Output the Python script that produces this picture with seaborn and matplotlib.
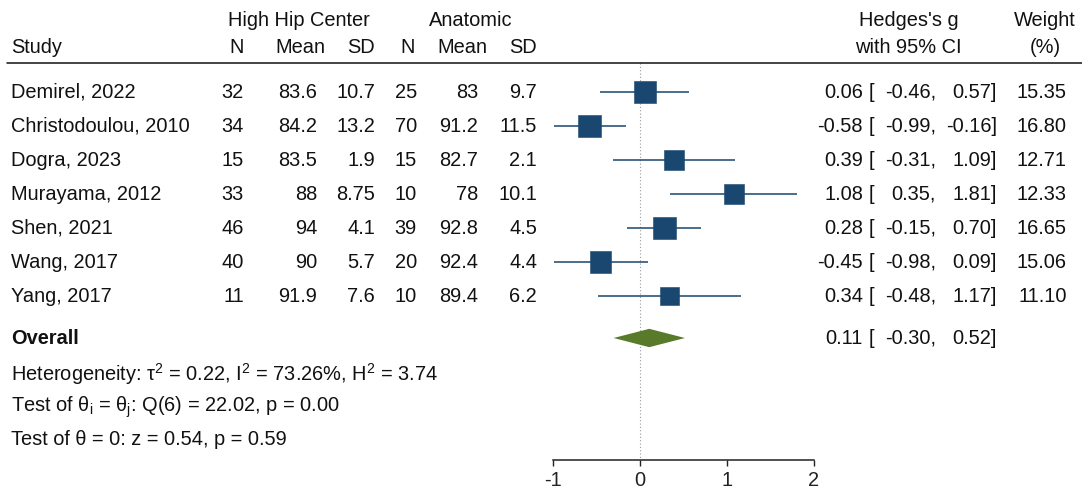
import numpy as np
import pandas as pd
import matplotlib
matplotlib.use("Agg")
import matplotlib.pyplot as plt
import matplotlib.transforms as mtransforms
import seaborn as sns

# ---- study-level data -------------------------------------------------------
studies = ["Demirel, 2022", "Christodoulou, 2010", "Dogra, 2023", "Murayama, 2012",
           "Shen, 2021", "Wang, 2017", "Yang, 2017"]
hhc_n = [32, 34, 15, 33, 46, 40, 11]
hhc_mean = [83.6, 84.2, 83.5, 88, 94, 90, 91.9]
hhc_sd = [10.7, 13.2, 1.9, 8.75, 4.1, 5.7, 7.6]
ana_n = [25, 70, 15, 10, 39, 20, 10]
ana_mean = [83, 91.2, 82.7, 78, 92.8, 92.4, 89.4]
ana_sd = [9.7, 11.5, 2.1, 10.1, 4.5, 4.4, 6.2]
hedges_g = [0.06, -0.58, 0.39, 1.08, 0.28, -0.45, 0.34]
ci_low = [-0.46, -0.99, -0.31, 0.35, -0.15, -0.98, -0.48]
ci_high = [0.57, -0.16, 1.09, 1.81, 0.70, 0.09, 1.17]
weights = [15.35, 16.80, 12.71, 12.33, 16.65, 15.06, 11.10]

overall_g = 0.11
overall_low = -0.30
overall_high = 0.52

het_text = r"Heterogeneity: τ$^{2}$ = 0.22, I$^{2}$ = 73.26%, H$^{2}$ = 3.74"
q_text = r"Test of θ$_{\mathrm{i}}$ = θ$_{\mathrm{j}}$: Q(6) = 22.02, p = 0.00"
z_text = "Test of θ = 0: z = 0.54, p = 0.59"
x_ticks = [-1, 0, 1, 2]

df = pd.DataFrame({"study": studies, "g": hedges_g, "lo": ci_low, "hi": ci_high,
                   "weight": weights, "row": np.arange(len(studies))})

# ---- style --------------------------------------------------------------------
sns.set_theme(style="white")
plt.rcParams["font.family"] = ["Liberation Sans", "DejaVu Sans"]
plt.rcParams["mathtext.fontset"] = "custom"
plt.rcParams["mathtext.rm"] = "Liberation Sans"
plt.rcParams["mathtext.it"] = "Liberation Sans:italic"
plt.rcParams["mathtext.bf"] = "Liberation Sans:bold"

NAVY = "#1a476f"
GREEN = "#5a7a2b"
TXT = "#111111"
FS = 14.4

W, H = 1082, 491
fig = plt.figure(figsize=(W / 100, H / 100), dpi=100)

# rows are 34 px apart, first study row 92 px from the top
ROW0, STEP = 92.0, 34.0
def row_of(py):
    return (py - ROW0) / STEP

axis_px = 460
ax = fig.add_axes([552.7 / W, (H - axis_px) / H, 261.0 / W, axis_px / H])
ax.set_xlim(-1, 2)
ax.set_ylim(row_of(axis_px), row_of(0))

# confidence intervals and weighted squares
ax.hlines(df["row"], df["lo"], df["hi"], color=NAVY, lw=1.1, zorder=2)
sns.scatterplot(data=df, x="g", y="row", size="weight", sizes=(0, 20 * 16.3),
                size_norm=(0, 20), marker="s", color=NAVY, edgecolor=NAVY,
                linewidth=0.4, legend=False, ax=ax, zorder=3)

# overall diamond
ov_row = row_of(338)
dh = 0.27
ax.fill([overall_low, overall_g, overall_high, overall_g],
        [ov_row, ov_row - dh, ov_row, ov_row + dh], color=GREEN, lw=0, zorder=3)

# reference line at zero
hdr_line = row_of(63)
ax.vlines(0, hdr_line, row_of(axis_px), color="#999999", lw=0.8,
          linestyles=(0, (1, 2)), zorder=1)

# axis styling
for s in ["top", "right", "left"]:
    ax.spines[s].set_visible(False)
ax.spines["bottom"].set_bounds(-1, 2)
ax.spines["bottom"].set_linewidth(1.1)
ax.spines["bottom"].set_color("#222222")
ax.set_xticks(x_ticks)
ax.set_xticklabels([str(t) for t in x_ticks])
ax.set_yticks([])
ax.tick_params(axis="x", direction="out", length=4.3, width=1.0, pad=3.5,
               labelsize=FS, colors="#222222", bottom=True)
ax.set_xlabel("")
ax.set_ylabel("")
ax.patch.set_alpha(0)

# ---- text table ----------------------------------------------------------------
tr = mtransforms.blended_transform_factory(fig.transFigure, ax.transData)
def put(px, row, s, ha="left", **kw):
    ax.text(px / W, row, s, transform=tr, ha=ha, va="center", fontsize=FS,
            color=TXT, clip_on=False, **kw)

def fmt(v):
    return f"{v:g}"

top_row, head_row = row_of(20), row_of(47)
put(299, top_row, "High Hip Center", ha="center")
put(471, top_row, "Anatomic", ha="center")
put(909, top_row, "Hedges's g", ha="center")
put(1045, top_row, "Weight", ha="center")
put(11, head_row, "Study")
for px, lab in [(244, "N"), (325, "Mean"), (375, "SD"),
                (415, "N"), (487, "Mean"), (537, "SD")]:
    put(px, head_row, lab, ha="right")
put(908, head_row, "with 95% CI", ha="center")
put(1045, head_row, "(%)", ha="center")

ax.plot([7 / W, 1.0], [hdr_line, hdr_line], transform=tr, color="#111111",
        lw=1.1, clip_on=False)

for i, r in enumerate(studies):
    put(11, i, r)
    put(244, i, fmt(hhc_n[i]), ha="right")
    put(317, i, fmt(hhc_mean[i]), ha="right")
    put(375, i, fmt(hhc_sd[i]), ha="right")
    put(417, i, fmt(ana_n[i]), ha="right")
    put(478, i, fmt(ana_mean[i]), ha="right")
    put(537, i, fmt(ana_sd[i]), ha="right")
    put(863, i, f"{hedges_g[i]:.2f}", ha="right")
    put(869, i, "[")
    put(936, i, f"{ci_low[i]:.2f},", ha="right")
    put(997, i, f"{ci_high[i]:.2f}]", ha="right")
    put(1067, i, f"{weights[i]:.2f}", ha="right")

put(11, ov_row, "Overall", fontweight="bold")
put(863, ov_row, f"{overall_g:.2f}", ha="right")
put(869, ov_row, "[")
put(936, ov_row, f"{overall_low:.2f},", ha="right")
put(997, ov_row, f"{overall_high:.2f}]", ha="right")

put(11, row_of(374), het_text)
put(11, row_of(407), q_text)
put(11, row_of(440), z_text)

fig.savefig("out.png", dpi=100, facecolor="white")
